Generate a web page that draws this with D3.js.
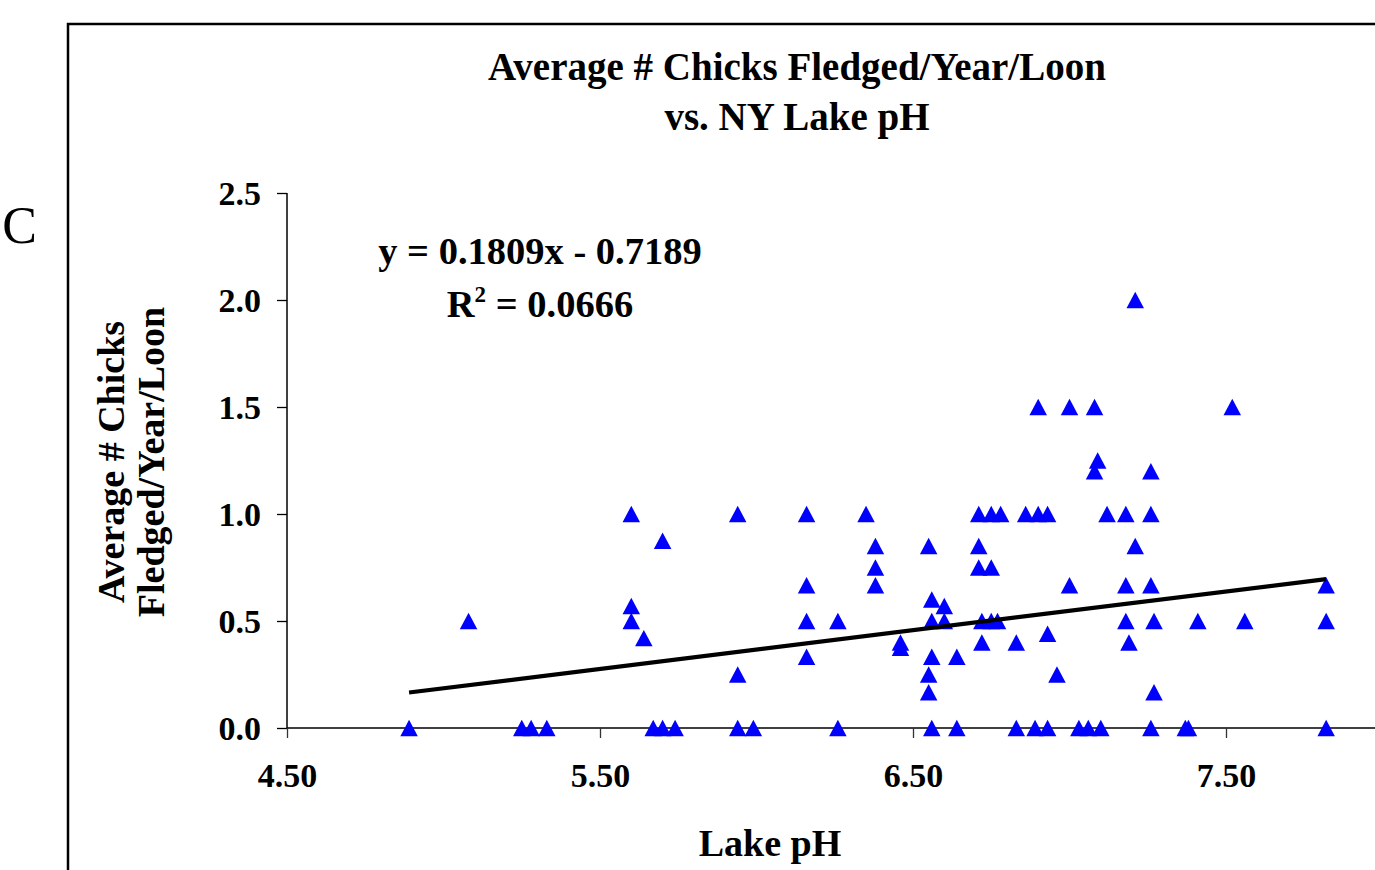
<!DOCTYPE html>
<html>
<head>
<meta charset="utf-8">
<script src="https://cdn.jsdelivr.net/npm/d3@7"></script>
<style>
  html, body { margin: 0; padding: 0; background: #fff; overflow: hidden; }
  svg { display: block; }
  text { font-family: "Liberation Serif", "Times New Roman", serif; fill: #000; }
</style>
</head>
<body>
<svg id="chart" width="1375" height="870"></svg>
<script>
// ---- Data ----
const lakePH = [
  4.89, 5.25, 5.28, 5.33, 5.67, 5.70, 5.74, 5.94, 5.99, 6.26, 6.56, 6.64, 6.83, 6.89, 6.93, 7.03, 7.06, 7.10, 7.26, 7.37, 7.38, 7.82,
  5.08, 5.60, 5.60, 5.60, 5.64, 5.70, 5.94, 5.94,
  6.16, 6.16, 6.16, 6.16, 6.26, 6.35, 6.38, 6.38, 6.38, 6.46, 6.46,
  6.55, 6.55, 6.55, 6.56, 6.56, 6.56, 6.60, 6.60, 6.64,
  6.71, 6.71, 6.71, 6.72, 6.72, 6.75, 6.75, 6.75, 6.78, 6.77, 6.83,
  6.86, 6.90, 6.90, 6.93, 6.93, 6.96, 7.00, 7.00,
  7.08, 7.08, 7.09, 7.12, 7.18, 7.18, 7.18, 7.19, 7.21, 7.21,
  7.26, 7.26, 7.26, 7.27, 7.27, 7.41, 7.52, 7.56, 7.82, 7.82
];
const chicksFledged = [
  0, 0, 0, 0, 0, 0, 0, 0, 0, 0, 0, 0, 0, 0, 0, 0, 0, 0, 0, 0, 0, 0,
  0.5, 1.0, 0.57, 0.5, 0.42, 0.875, 1.0, 0.25,
  1.0, 0.667, 0.5, 0.333, 0.5, 1.0, 0.85, 0.75, 0.667, 0.40, 0.375,
  0.85, 0.25, 0.167, 0.6, 0.5, 0.333, 0.57, 0.5, 0.333,
  1.0, 0.85, 0.75, 0.5, 0.40, 1.0, 0.75, 0.5, 1.0, 0.5, 0.40,
  1.0, 1.0, 1.5, 1.0, 0.44, 0.25, 1.5, 0.667,
  1.5, 1.2, 1.25, 1.0, 1.0, 0.667, 0.5, 0.40, 2.0, 0.85,
  1.0, 1.2, 0.667, 0.5, 0.167, 0.5, 1.5, 0.5, 0.667, 0.5
];
const xTicks = [4.5, 5.5, 6.5, 7.5];
const yTicks = [0.0, 0.5, 1.0, 1.5, 2.0, 2.5];
const trendSlope = 0.1809;
const trendIntercept = -0.7189;
const rSquared = "0.0666";
const titleLines = ["Average # Chicks Fledged/Year/Loon", "vs. NY Lake pH"];
const yTitleLines = ["Average # Chicks", "Fledged/Year/Loon"];
const xTitle = "Lake pH";
const panelLabel = "C";

// ---- Layout ----
const svg = d3.select("#chart");
const x = d3.scaleLinear().domain([4.5, 8.0]).range([287, 287 + 3.5 * 313]);
const y = d3.scaleLinear().domain([0, 2.5]).range([728, 193]);

// outer chart border
svg.append("rect")
  .attr("x", 68).attr("y", 24).attr("width", 1400).attr("height", 900)
  .attr("fill", "none").attr("stroke", "#000").attr("stroke-width", 2.5);

// panel label from the page
svg.append("text").attr("x", 37).attr("y", 243).attr("text-anchor", "end")
  .style("font-size", "52px").text(panelLabel);

// Title
svg.append("g").selectAll("text").data(titleLines).join("text")
  .attr("x", 797).attr("y", (d, i) => 80 + i * 50)
  .attr("text-anchor", "middle")
  .style("font-size", "39px").style("font-weight", "bold")
  .text(d => d);

// Y axis
const yAxis = d3.axisLeft(y).tickValues(yTicks).tickFormat(d3.format(".1f"))
  .tickSize(10).tickPadding(16);
const gy = svg.append("g").attr("transform", "translate(287,0)").call(yAxis);
gy.select(".domain").attr("stroke", "#000").attr("stroke-width", 1.5).attr("d", `M0,${y(2.5)}V${y(0)}`);
gy.selectAll(".tick line").attr("stroke", "#000").attr("stroke-width", 1.3);
gy.selectAll(".tick text")
  .style("font-family", '"Liberation Serif", "Times New Roman", serif')
  .style("font-size", "34px").style("font-weight", "bold").attr("fill", "#000")
  .attr("dy", "0.34em");

// X axis
const xAxis = d3.axisBottom(x).tickValues(xTicks).tickFormat(d3.format(".2f"))
  .tickSize(10).tickPadding(25);
const gx = svg.append("g").attr("transform", `translate(0,${y(0)})`).call(xAxis);
gx.select(".domain").attr("stroke", "#000").attr("stroke-width", 1.5).attr("d", `M${x(4.5)},0H${x(8.0)}`);
gx.selectAll(".tick line").attr("stroke", "#333").attr("stroke-width", 1.3);
gx.selectAll(".tick text")
  .style("font-family", '"Liberation Serif", "Times New Roman", serif')
  .style("font-size", "34px").style("font-weight", "bold").attr("fill", "#000");

// Axis titles
svg.append("text").attr("x", 770).attr("y", 856).attr("text-anchor", "middle")
  .style("font-size", "38px").style("font-weight", "bold").text(xTitle);
svg.append("g").selectAll("text").data(yTitleLines).join("text")
  .attr("transform", (d, i) => `translate(${124 + i * 40},462) rotate(-90)`)
  .attr("text-anchor", "middle")
  .style("font-size", "38px").style("font-weight", "bold")
  .text(d => d);

// Markers: Excel-style triangle
const tri = {
  draw(ctx, size) {
    const w = Math.sqrt(size), h = w * 0.94;
    ctx.moveTo(0, -h / 2);
    ctx.lineTo(w / 2, h / 2);
    ctx.lineTo(-w / 2, h / 2);
    ctx.closePath();
  }
};
const pts = lakePH.map((v, i) => ({ ph: v, c: chicksFledged[i] }));
svg.append("g").selectAll("path").data(pts).join("path")
  .attr("d", d3.symbol().type(tri).size(17.5 * 17.5))
  .attr("transform", d => `translate(${x(d.ph)},${y(d.c)})`)
  .attr("fill", "#0000ff");

// Trend line
const xr = d3.extent(lakePH);
const trend = xr.map(v => ({ ph: v, c: trendSlope * v + trendIntercept }));
svg.append("path")
  .datum(trend)
  .attr("d", d3.line().x(d => x(d.ph)).y(d => y(d.c)))
  .attr("stroke", "#000").attr("stroke-width", 4.2).attr("fill", "none");

// Equation text
const eq = svg.append("g").style("font-size", "38.5px").style("font-weight", "bold");
eq.append("text").attr("x", 540).attr("y", 264).attr("text-anchor", "middle")
  .text(`y = ${trendSlope}x - ${Math.abs(trendIntercept)}`);
const r2t = eq.append("text").attr("x", 540).attr("y", 317).attr("text-anchor", "middle");
r2t.append("tspan").text("R");
r2t.append("tspan").attr("dy", -15).style("font-size", "23px").text("2");
r2t.append("tspan").attr("dy", 15).text(` = ${rSquared}`);
</script>
</body>
</html>
